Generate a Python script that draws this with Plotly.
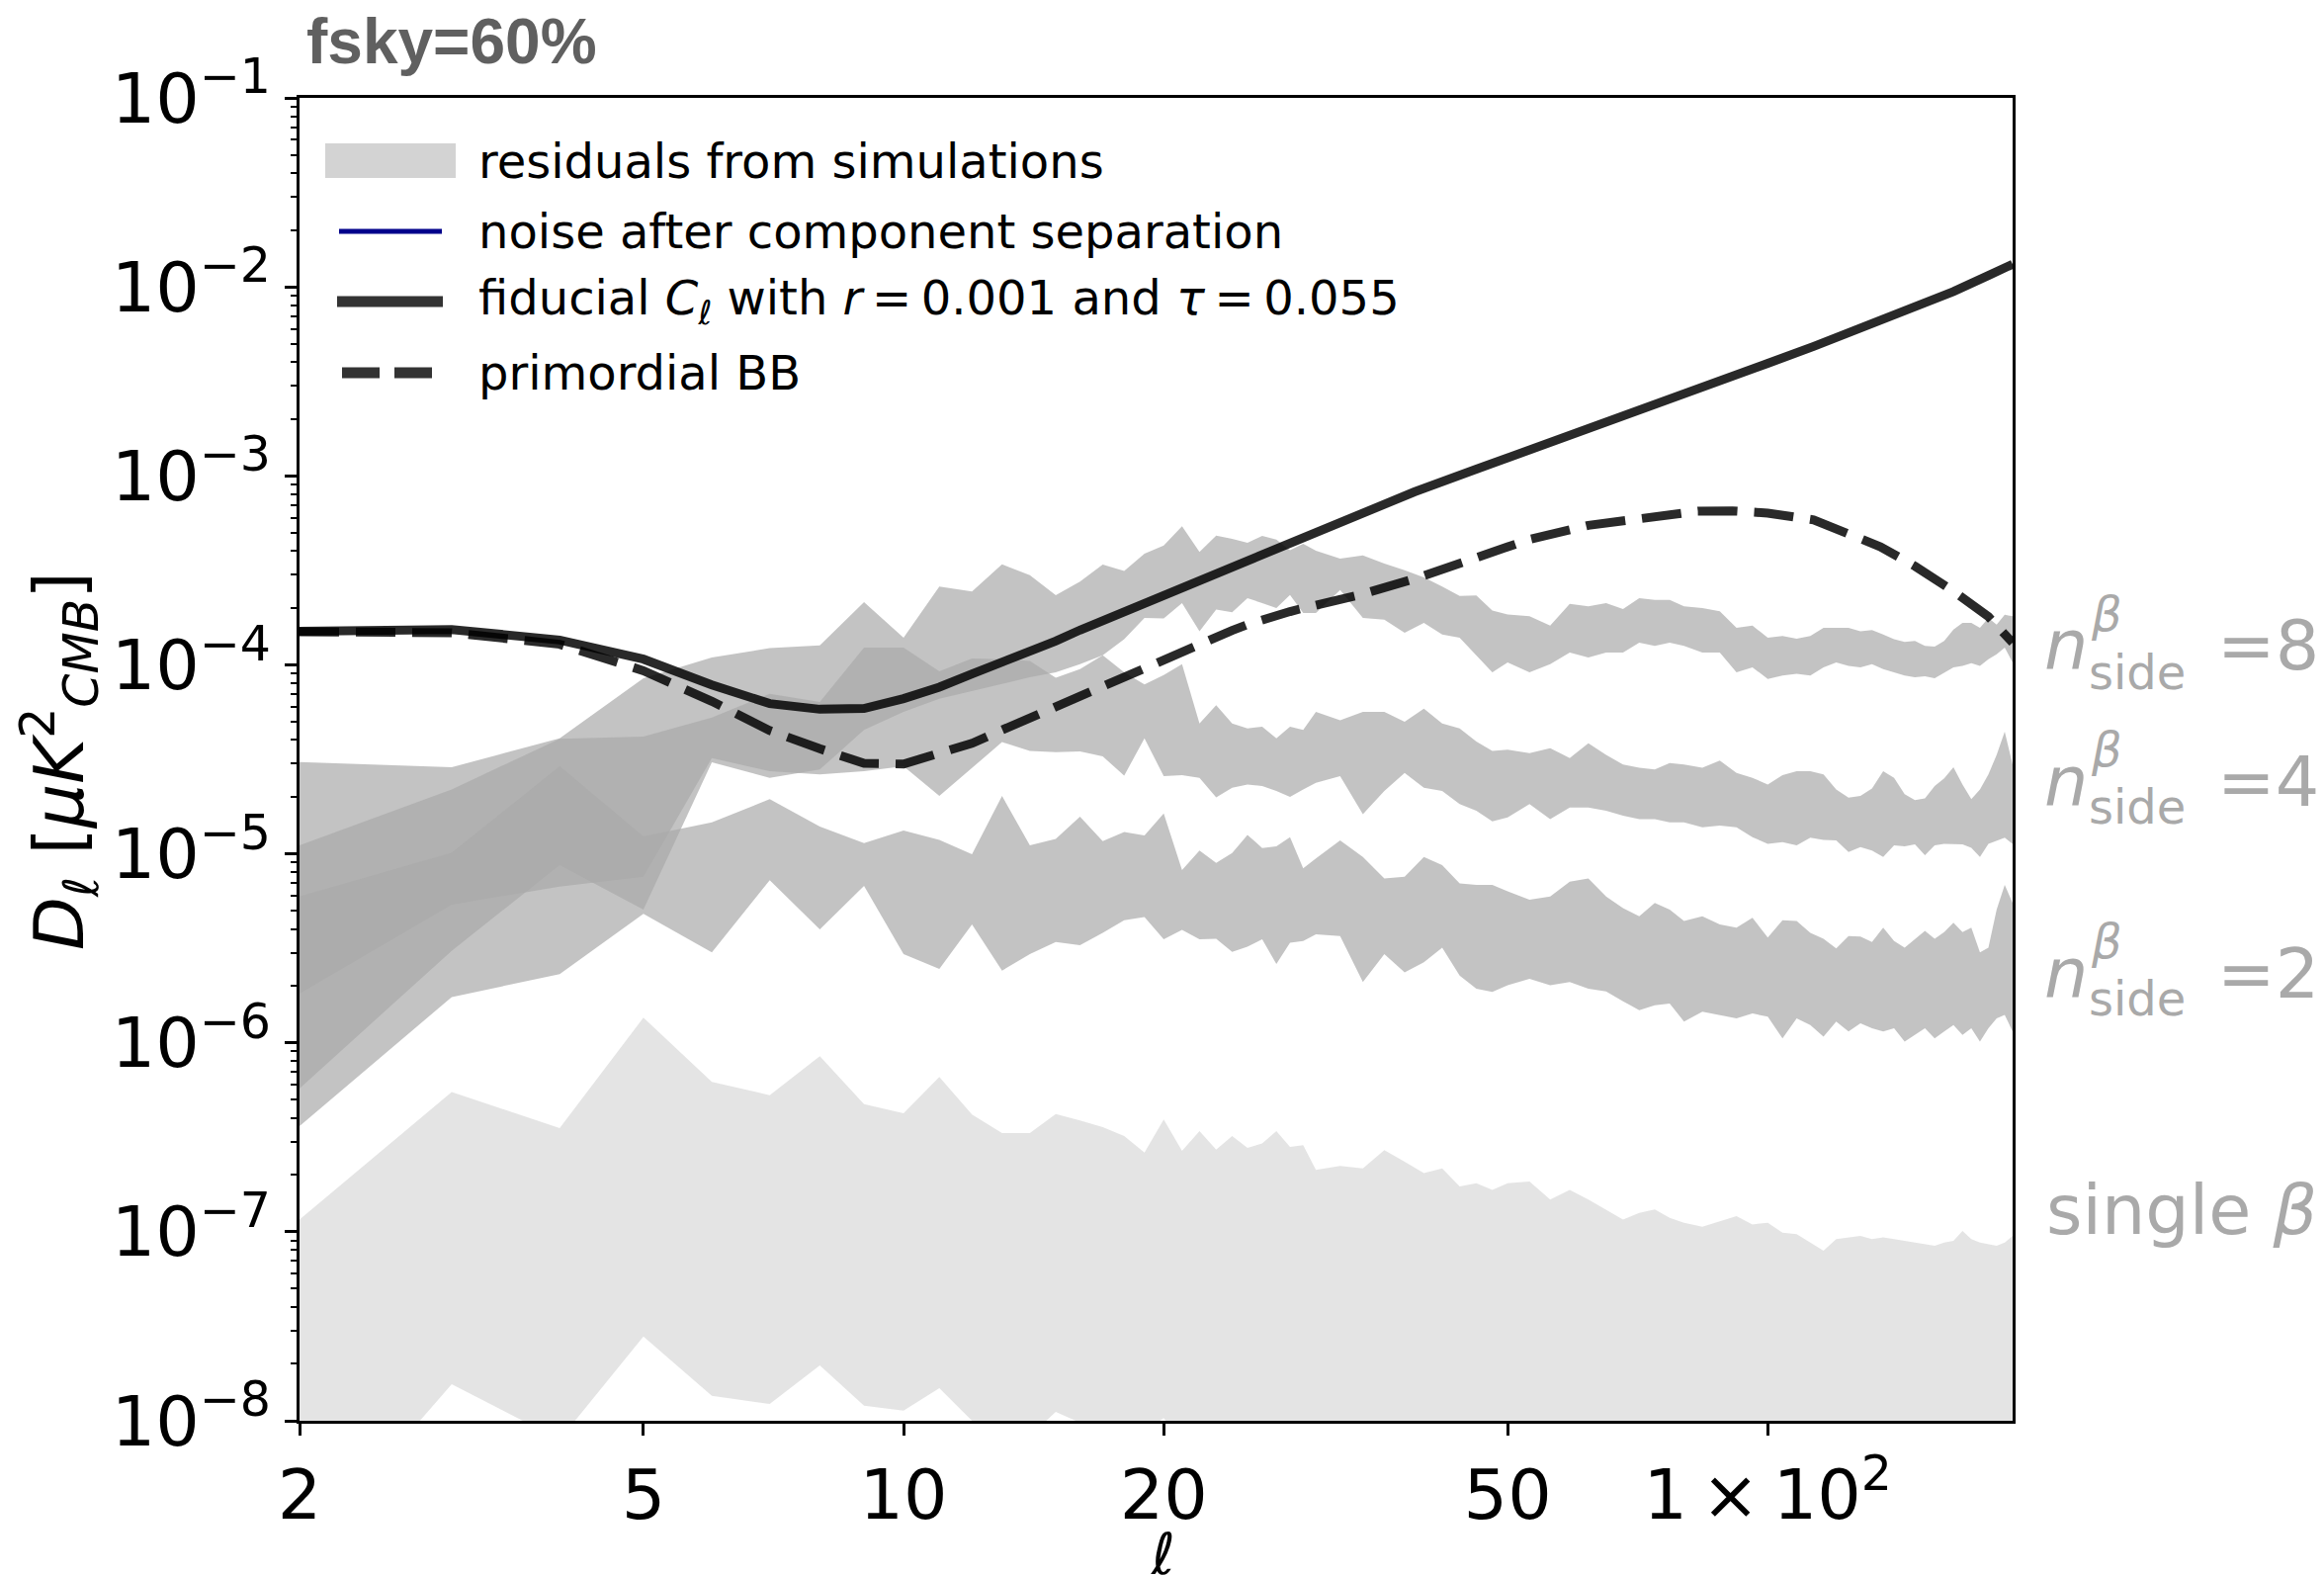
import numpy as np
import plotly.graph_objects as go

# multipoles
ell = [2, 3, 4, 5, 6, 7, 8, 9, 10, 11, 12, 13, 14, 15, 16, 17, 18, 19, 20, 21, 22, 23, 24, 25, 26, 27, 28, 29,
       30, 32, 34, 36, 38, 40, 42, 44, 46, 48, 50, 53, 56, 59, 62, 65, 68, 71, 74, 77, 80, 84, 88, 92, 96, 100,
       104, 108, 112, 116, 120, 124, 128, 132, 136, 140, 144, 148, 152, 156, 160, 164, 168, 172, 176, 180,
       184, 188, 192]

# residual envelopes, log10 D_ell [uK^2]
nside8_upper = [-4.514, -4.542, -4.389, -4.071, -3.961, -3.912, -3.897,
                -3.668, -3.857, -3.586, -3.612, -3.468, -3.525, -3.632, -3.560, -3.469, -3.504, -3.412, -3.368,
                -3.267, -3.403, -3.316, -3.333, -3.354, -3.318, -3.337, -3.394, -3.360,
                -3.396, -3.438, -3.421, -3.464, -3.499, -3.537, -3.586, -3.635, -3.633, -3.712, -3.734, -3.743,
                -3.792, -3.677, -3.691, -3.673, -3.705, -3.647, -3.656, -3.656, -3.691, -3.700, -3.717, -3.804,
                -3.792, -3.857, -3.848, -3.862,
                -3.848, -3.804, -3.804, -3.804, -3.822, -3.816, -3.839, -3.865, -3.879, -3.874, -3.900, -3.904,
                -3.874, -3.813, -3.778, -3.778, -3.804, -3.752, -3.787, -3.735, -3.743]
nside8_lower = [-6.242, -5.513, -5.060, -5.295, -4.516, -4.598, -4.554,
                -4.345, -4.249, -4.179, -4.136, -4.101, -4.066, -4.040, -3.996, -3.949, -3.865, -3.752, -3.755,
                -3.673, -3.822, -3.708, -3.722, -3.647, -3.673, -3.700, -3.630, -3.726,
                -3.726, -3.604, -3.752, -3.761, -3.830, -3.778, -3.839, -3.857, -3.953, -4.040, -3.987, -4.040,
                -3.996, -3.935, -3.961, -3.935, -3.935, -3.883, -3.900, -3.883, -3.900, -3.935, -3.935, -4.040,
                -4.013, -4.075, -4.057, -4.048,
                -4.057, -4.013, -3.987, -4.005, -4.013, -3.996, -4.022, -4.040, -4.057, -4.066, -4.061, -4.071,
                -4.043, -4.013, -4.005, -3.991, -4.005, -3.970, -3.944, -3.909, -3.987]

nside4_upper = [-4.955, -4.659, -4.392, -4.380, -4.279, -4.153, -4.197,
                -3.909, -3.909, -4.035, -3.966, -3.970, -3.979, -4.069, -4.022, -3.949, -4.040, -4.104, -4.054,
                -3.996, -4.310, -4.214, -4.310, -4.336, -4.328, -4.389, -4.328, -4.345,
                -4.249, -4.293, -4.249, -4.249, -4.301, -4.232, -4.310, -4.336, -4.406, -4.455, -4.449, -4.467,
                -4.441, -4.493, -4.415, -4.476, -4.528, -4.545, -4.554, -4.519, -4.528, -4.545, -4.507, -4.572,
                -4.598, -4.633, -4.584, -4.563,
                -4.563, -4.580, -4.659, -4.703, -4.694, -4.654, -4.563, -4.598, -4.685, -4.716, -4.706, -4.641,
                -4.601, -4.542, -4.633, -4.711, -4.659, -4.580, -4.476, -4.354, -4.528]
nside4_lower = [-5.740, -5.269, -5.173, -5.121, -4.493, -4.563, -4.580,
                -4.563, -4.537, -4.694, -4.545, -4.409, -4.455, -4.462, -4.458, -4.484, -4.586, -4.389, -4.589,
                -4.584, -4.598, -4.702, -4.650, -4.633, -4.641, -4.668, -4.699, -4.659,
                -4.624, -4.589, -4.790, -4.668, -4.572, -4.650, -4.668, -4.737, -4.772, -4.828, -4.807, -4.737,
                -4.816, -4.755, -4.755, -4.772, -4.798, -4.816, -4.816, -4.833, -4.833, -4.860, -4.851, -4.860,
                -4.912, -4.947, -4.938, -4.955,
                -4.915, -4.926, -4.929, -4.990, -4.964, -4.982, -5.016, -4.955, -4.961, -4.950, -5.008, -4.955,
                -4.947, -4.947, -4.950, -4.968, -5.016, -4.947, -4.929, -4.915, -4.947]

nside2_upper = [-5.226, -4.995, -4.537, -4.908, -4.833, -4.711, -4.856,
                -4.943, -4.877, -4.926, -5.002, -4.694, -4.955, -4.921, -4.804, -4.933, -4.885, -4.903, -4.786,
                -5.086, -4.982, -5.048, -4.996, -4.900, -4.969, -4.961, -4.912, -5.077,
                -5.025, -4.929, -5.016, -5.130, -5.121, -5.016, -5.060, -5.156, -5.165, -5.165, -5.199, -5.243,
                -5.226, -5.147, -5.130, -5.226, -5.287, -5.330, -5.260, -5.295, -5.356, -5.330, -5.374, -5.391,
                -5.339, -5.443, -5.351, -5.356,
                -5.418, -5.449, -5.501, -5.435, -5.438, -5.466, -5.391, -5.461, -5.496, -5.452, -5.408, -5.449,
                -5.414, -5.365, -5.414, -5.391, -5.522, -5.496, -5.295, -5.165, -5.260]
nside2_lower = [-6.441, -5.758, -5.636, -5.318, -5.522, -5.139, -5.400,
                -5.170, -5.531, -5.609, -5.374, -5.618, -5.531, -5.466, -5.484, -5.418, -5.351, -5.334, -5.452,
                -5.403, -5.452, -5.449, -5.519, -5.491, -5.452, -5.583, -5.470, -5.461,
                -5.426, -5.435, -5.679, -5.531, -5.627, -5.574, -5.496, -5.644, -5.714, -5.731, -5.696, -5.661,
                -5.696, -5.679, -5.714, -5.728, -5.780, -5.827, -5.801, -5.792, -5.888, -5.836, -5.853, -5.871,
                -5.845, -5.862, -5.976, -5.871,
                -5.906, -5.967, -5.888, -5.940, -5.897, -5.923, -5.940, -5.923, -5.993, -5.958, -5.923, -5.976,
                -5.940, -5.906, -5.958, -5.923, -5.993, -5.923, -5.871, -5.853, -5.940]

single_upper = [-6.935, -6.260, -6.452, -5.867, -6.207,
                -6.277, -6.071, -6.324, -6.373, -6.181, -6.380, -6.478, -6.478, -6.377, -6.411, -6.446, -6.493,
                -6.581, -6.406, -6.572, -6.467, -6.565, -6.493, -6.556, -6.533, -6.467, -6.551, -6.542,
                -6.673, -6.652, -6.664, -6.568, -6.629, -6.690, -6.664, -6.760, -6.743, -6.778, -6.743, -6.734,
                -6.830, -6.778, -6.830, -6.882, -6.935, -6.900, -6.882, -6.926, -6.952, -6.973, -6.943, -6.917,
                -6.961, -6.952, -7.005, -7.013,
                -7.057, -7.100, -7.039, -7.030, -7.022, -7.039, -7.030, -7.039, -7.048, -7.057, -7.065, -7.074,
                -7.057, -7.048, -6.996, -7.039, -7.057, -7.065, -7.074, -7.057, -7.022]
single_lower = [-8.73, -7.807, -8.10, -7.554, -7.868, -7.911, -7.707, -7.920, -7.946, -7.827, -8.00, -8.15,
                -8.08, -7.953, -8.01, -8.20, -8.22, -8.06, -7.985, -8.12, -8.25, -8.30, -8.22, -8.28, -8.35,
                -8.30, -8.33, -8.38,
                -8.40, -8.36, -8.42, -8.45, -8.40, -8.47, -8.44, -8.50, -8.46, -8.52, -8.48, -8.55, -8.50,
                -8.53, -8.57, -8.52, -8.58, -8.55, -8.60, -8.57, -8.62, -8.58, -8.63, -8.60, -8.64, -8.61,
                -8.66, -8.62,
                -8.65, -8.68, -8.64, -8.69, -8.66, -8.70, -8.67, -8.71, -8.68, -8.72, -8.69, -8.73, -8.70,
                -8.74, -8.71, -8.75, -8.72, -8.74, -8.73, -8.75, -8.74]

# theory spectra, log10 D_ell [uK^2]
theory_ell = [2, 3, 4, 5, 6, 7, 8, 9, 10, 11, 12, 13, 14, 15, 16, 17, 18, 19, 20, 21, 22, 23, 24, 25, 26,
              27, 28, 29, 34, 39, 46, 53, 62, 74, 83, 91, 100, 113, 122, 135, 148, 164, 180, 192]
fiducial_total = [-3.822, -3.813, -3.869, -3.970, -4.106, -4.205, -4.235, -4.231, -4.179, -4.118, -4.048,
                  -3.987, -3.932, -3.874, -3.816, -3.766, -3.717, -3.673, -3.630, -3.586, -3.548, -3.511,
                  -3.473, -3.443, -3.408, -3.380, -3.351, -3.325, -3.195, -3.085, -2.965, -2.865, -2.755,
                  -2.625, -2.545, -2.475, -2.405, -2.315, -2.255, -2.180, -2.110, -2.025, -1.940, -1.880]
primordial_bb = [-3.825, -3.830, -3.891, -4.031, -4.193, -4.348, -4.444, -4.521, -4.525, -4.463, -4.415,
                 -4.345, -4.280, -4.223, -4.165, -4.109, -4.061, -4.014, -3.966, -3.924, -3.883, -3.850,
                 -3.818, -3.787, -3.760, -3.738, -3.718, -3.700, -3.625, -3.545, -3.432, -3.336, -3.262,
                 -3.210, -3.187, -3.185, -3.197, -3.233, -3.290, -3.375, -3.478, -3.610, -3.745, -3.883]

W, H = 2351, 1594
L, R, T, B = 303, 2036, 99, 1437
PW, PH = R - L, B - T


def px(x):
    return (x - L) / PW


def py(y):
    return (B - y) / PH


def lin(v):
    return list(np.power(10.0, np.asarray(v, dtype=float)))


fig = go.Figure()

bands = [
    (single_upper, single_lower, "rgba(211,211,211,0.62)"),
    (nside8_upper, nside8_lower, "rgba(169,169,169,0.7)"),
    (nside4_upper, nside4_lower, "rgba(169,169,169,0.7)"),
    (nside2_upper, nside2_lower, "rgba(169,169,169,0.7)"),
]
for up, lo, col in bands:
    fig.add_trace(go.Scatter(
        x=ell + ell[::-1], y=lin(up) + lin(lo)[::-1],
        mode="lines", fill="toself", fillcolor=col, line=dict(width=0),
        hoverinfo="skip", showlegend=False))

line_col = "rgba(0,0,0,0.84)"
fig.add_trace(go.Scatter(x=theory_ell, y=lin(fiducial_total), mode="lines",
                         line=dict(color=line_col, width=9), showlegend=False))
fig.add_trace(go.Scatter(x=theory_ell, y=lin(primordial_bb), mode="lines",
                         line=dict(color=line_col, width=9, dash="40px,17px"), showlegend=False))

FONT = "DejaVu Sans"
tick_font = dict(family=FONT, size=70, color="black")

y_major = [10.0 ** k for k in range(-8, 0)]
y_text = ["10<sup>\u2212%d</sup>" % (-k) for k in range(-8, 0)]
y_minor = [m * 10.0 ** k for k in range(-8, -1) for m in range(2, 10)]

fig.update_xaxes(type="log", range=[np.log10(2), np.log10(192)],
                 tickvals=[2, 5, 10, 20, 50, 100],
                 ticktext=["2", "5", "10", "20", "50", "1\u2009\u00d7\u200910<sup>2</sup>"],
                 ticks="outside", ticklen=12, tickwidth=2.5, tickcolor="black",
                 showline=True, linewidth=3, linecolor="black", mirror=True,
                 showgrid=False, zeroline=False, tickfont=tick_font)
fig.update_yaxes(type="log", range=[-8, -1],
                 tickvals=y_major, ticktext=y_text,
                 ticks="outside", ticklen=12, tickwidth=2.5, tickcolor="black",
                 minor=dict(tickmode="array", tickvals=y_minor, ticks="outside",
                            ticklen=6, tickwidth=2, tickcolor="black", showgrid=False),
                 showline=True, linewidth=3, linecolor="black", mirror=True,
                 showgrid=False, zeroline=False, tickfont=tick_font)

shapes = []
annotations = []

# legend
leg_rows = [163, 234, 305, 377]
shapes.append(dict(type="rect", xref="paper", yref="paper",
                   x0=px(329), x1=px(461), y0=py(180), y1=py(145),
                   fillcolor="#d3d3d3", line=dict(width=0)))
shapes.append(dict(type="line", xref="paper", yref="paper",
                   x0=px(343), x1=px(447), y0=py(leg_rows[1]), y1=py(leg_rows[1]),
                   line=dict(color="#00008b", width=5)))
shapes.append(dict(type="line", xref="paper", yref="paper",
                   x0=px(341), x1=px(448), y0=py(leg_rows[2]), y1=py(leg_rows[2]),
                   line=dict(color="#333333", width=11)))
shapes.append(dict(type="line", xref="paper", yref="paper",
                   x0=px(346), x1=px(440), y0=py(leg_rows[3]), y1=py(leg_rows[3]),
                   line=dict(color="#333333", width=11, dash="38px,15px")))
leg_texts = [
    "residuals from simulations",
    "noise after component separation",
    "fiducial <i>C</i><sub>\u2113</sub> with <i>r</i>\u2009=\u20090.001 and <i>\u03c4</i>\u2009=\u20090.055",
    "primordial BB",
]
for t, yy in zip(leg_texts, leg_rows):
    annotations.append(dict(text=t, xref="paper", yref="paper", x=px(482), y=py(yy),
                            xanchor="left", yanchor="middle", showarrow=False,
                            font=dict(family=FONT, size=48, color="black")))

# band labels on the right
lab_col = "#a9a9a9"
for val, yeq, ysup, ysub in [("8", 653, 621, 680), ("4", 791, 758, 816), ("2", 985, 952, 1010)]:
    annotations.append(dict(text="<i>n</i>", xref="paper", yref="paper", x=px(2066), y=py(yeq),
                            xanchor="left", yanchor="middle", showarrow=False,
                            font=dict(family=FONT, size=70, color=lab_col)))
    annotations.append(dict(text="<i>\u03b2</i>", xref="paper", yref="paper", x=px(2113), y=py(ysup),
                            xanchor="left", yanchor="middle", showarrow=False,
                            font=dict(family=FONT, size=48, color=lab_col)))
    annotations.append(dict(text="side", xref="paper", yref="paper", x=px(2111), y=py(ysub),
                            xanchor="left", yanchor="middle", showarrow=False,
                            font=dict(family=FONT, size=48, color=lab_col)))
    annotations.append(dict(text="=" + val, xref="paper", yref="paper", x=px(2241), y=py(yeq),
                            xanchor="left", yanchor="middle", showarrow=False,
                            font=dict(family=FONT, size=70, color=lab_col)))
annotations.append(dict(text="single <i>\u03b2</i>", xref="paper", yref="paper", x=px(2068), y=py(1224),
                        xanchor="left", yanchor="middle", showarrow=False,
                        font=dict(family=FONT, size=70, color=lab_col)))

# title
annotations.append(dict(text="<b>fsky=60%</b>", xref="paper", yref="paper", x=px(308), y=py(42),
                        xanchor="left", yanchor="middle", showarrow=False,
                        font=dict(family="Liberation Sans", size=64, color="#606060")))

# axis titles
annotations.append(dict(text="<i>D</i><sub>\u2113</sub> [<i>\u03bcK</i><sup>2</sup><sub><i>CMB</i></sub>]",
                        xref="paper", yref="paper", x=px(60), y=py(770), textangle=-90,
                        xanchor="center", yanchor="middle", showarrow=False,
                        font=dict(family=FONT, size=70, color="black")))
annotations.append(dict(text="<i>\u2113</i>", xref="paper", yref="paper", x=px(1176), y=py(1572),
                        xanchor="center", yanchor="middle", showarrow=False,
                        font=dict(family=FONT, size=58, color="black")))

fig.update_layout(width=W, height=H, margin=dict(l=L, r=W - R, t=T, b=H - B),
                  paper_bgcolor="white", plot_bgcolor="white",
                  shapes=shapes, annotations=annotations, showlegend=False)

fig.write_html("out.html")
